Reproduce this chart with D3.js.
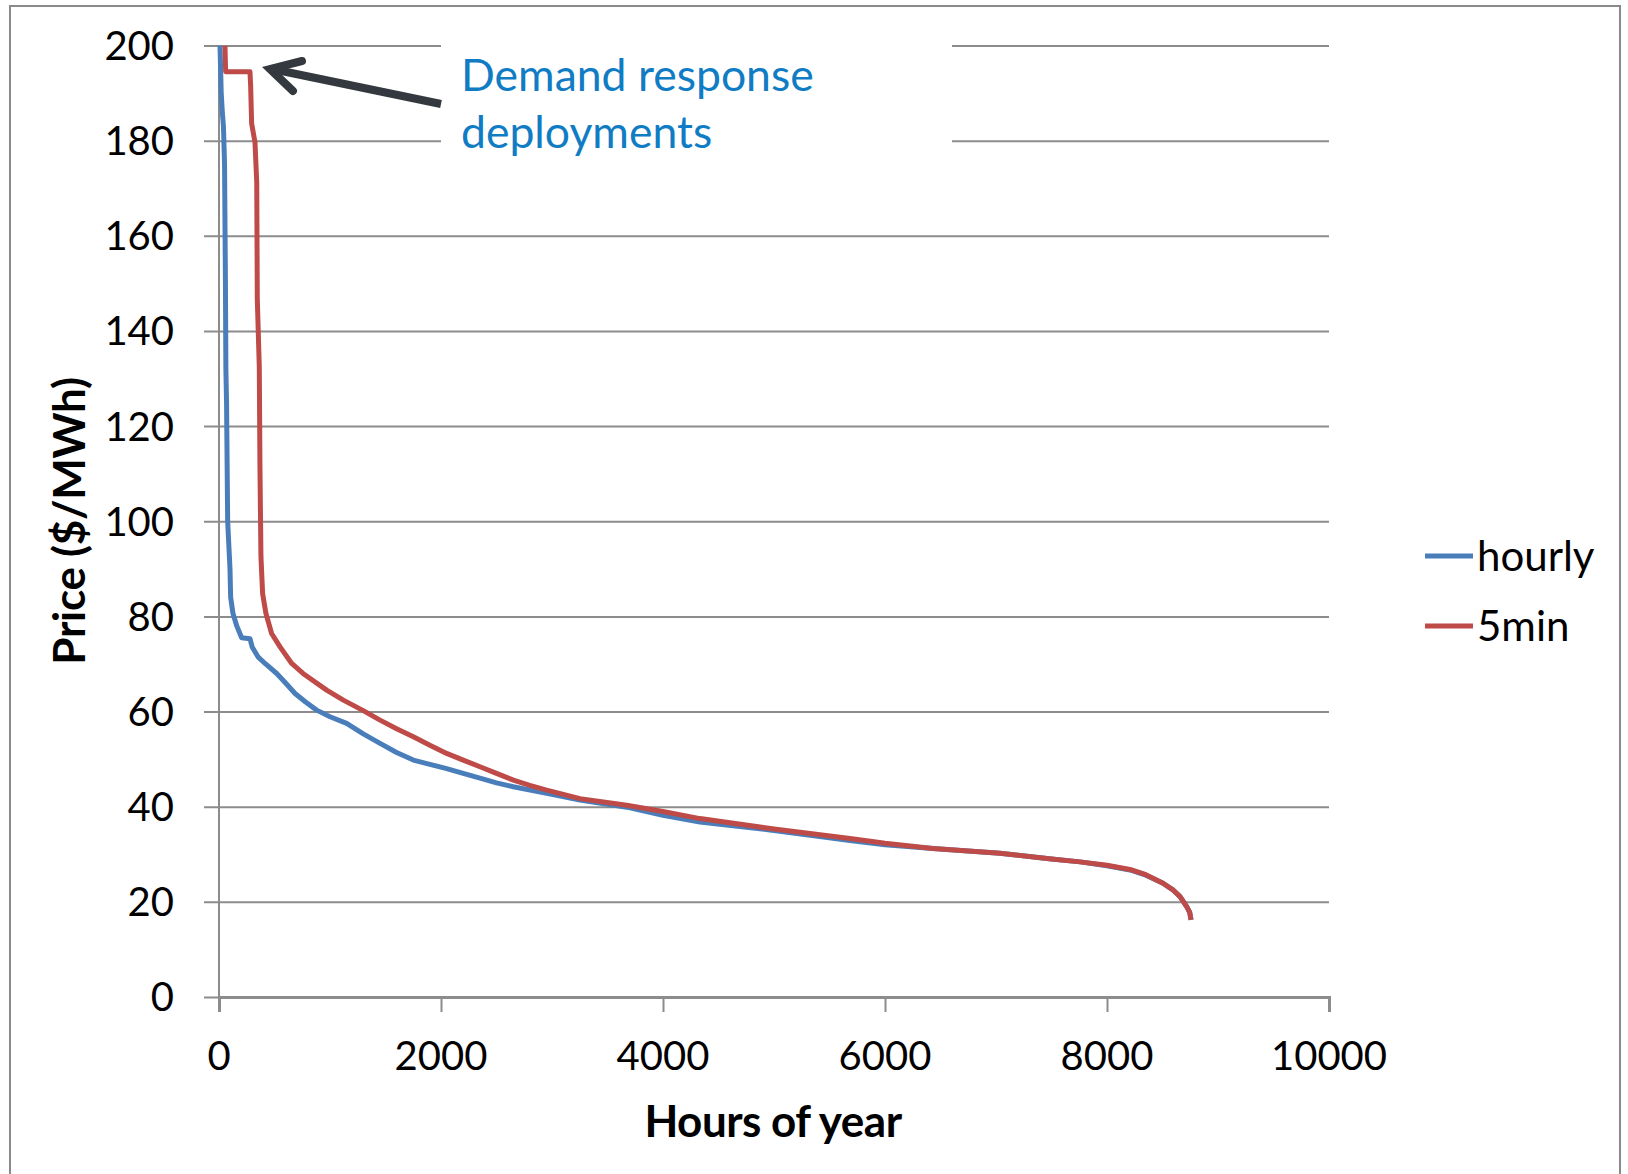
<!DOCTYPE html>
<html>
<head>
<meta charset="utf-8">
<script src="https://cdn.jsdelivr.net/npm/d3@7"></script>
<style>
  body { margin: 0; background: #fff; }
  text { font-family: Lato, "Open Sans", sans-serif; fill: #000; }
</style>
</head>
<body>
<script>
// price duration curves, [hour, $/MWh]
var hourly = [
  [9,200],[20,190],[30,186],[40,183],[50,175],[58,150],[62,132],[68,125],[78,100],[99,90],
  [105,84],[126,80.6],[160,78],[204,75.5],[279,75.3],[300,73.5],[351,71.5],[420,70],
  [520,68],[600,66],[685,63.8],[780,62],[880,60.3],[1000,58.9],[1150,57.5],[1300,55.3],
  [1451,53.3],[1600,51.4],[1751,49.8],[1900,48.9],[2051,48],[2200,47],[2351,46],
  [2500,45],[2652,44.2],[2952,42.8],[3252,41.4],[3673,39.9],[4000,38.2],[4333,36.8],
  [5000,35],[5685,32.9],[6000,32],[6432,31.2],[7036,30.2],[7500,29],[7757,28.4],
  [8000,27.6],[8207,26.7],[8350,25.6],[8505,23.9],[8600,22.4],[8658,21.1],[8718,19],
  [8745,17.8],[8757,16.2]
];
var fiveMin = [
  [54,200],[58,196],[60,194.5],[279,194.5],[285,191.6],[294,183.6],[324,179.7],[340,171.3],
  [345,146.8],[363,132.4],[369,111.4],[378,92.5],[393,84.8],[423,80.6],[474,76.4],
  [550,73.6],[655,70.1],[757,68],[970,64.5],[1120,62.4],[1300,60.2],[1451,58.2],
  [1600,56.4],[1751,54.7],[1900,52.9],[2051,51.2],[2200,49.8],[2351,48.4],[2500,47],
  [2652,45.6],[2800,44.5],[2952,43.5],[3252,41.7],[3673,40.3],[4000,39],[4333,37.5],
  [5000,35.3],[5685,33.3],[6000,32.3],[6432,31.2],[7036,30.2],[7500,29],[7757,28.4],
  [8000,27.7],[8207,26.8],[8350,25.7],[8505,23.9],[8600,22.4],[8658,21.1],[8718,19],
  [8745,17.8],[8757,16.2]
];
var series = [
  {name: "hourly", values: hourly, color: "#4a7ebb"},
  {name: "5min", values: fiveMin, color: "#be4b48"}
];
var xTicks = [0, 2000, 4000, 6000, 8000, 10000];
var yTicks = [0, 20, 40, 60, 80, 100, 120, 140, 160, 180, 200];
var note = ["Demand response", "deployments"];

var width = 1628, height = 1174;
var svg = d3.select('body').append('svg')
    .attr('width', width)
    .attr('height', height);

// outer frame
svg.append('rect')
    .attr('x', 10).attr('y', 6)
    .attr('width', 1610).attr('height', 1200)
    .attr('fill', 'none')
    .attr('stroke', '#8a8a8a')
    .attr('stroke-width', 2);

var x = d3.scaleLinear().domain([0, 10000]).range([219, 1329]);
var y = d3.scaleLinear().domain([0, 200]).range([997, 45.5]);

// gridlines + y ticks
svg.append('g')
    .attr('transform', 'translate(219,0)')
    .call(d3.axisLeft(y).tickValues(yTicks).tickSize(-(1329 - 219)).tickFormat(''))
    .call(g => g.select('.domain').remove())
    .call(g => g.selectAll('line').attr('stroke', '#8c8c8c').attr('stroke-width', 2).attr('x1', -15));

// blank out grid behind the note
svg.append('rect')
    .attr('x', 441).attr('y', 30).attr('width', 511).attr('height', 125)
    .attr('fill', '#fff');

// y axis line
svg.append('line')
    .attr('x1', 219).attr('x2', 219).attr('y1', y(200)).attr('y2', y(0))
    .attr('stroke', '#8c8c8c').attr('stroke-width', 2);

// x axis
svg.append('g')
    .attr('transform', 'translate(0,' + y(0) + ')')
    .call(d3.axisBottom(x).tickValues(xTicks).tickSize(15).tickFormat(''))
    .call(g => g.select('.domain').attr('stroke', '#8c8c8c').attr('stroke-width', 3))
    .call(g => g.selectAll('line').attr('stroke', '#8c8c8c').attr('stroke-width', 2));

svg.selectAll('.ylab')
    .data(yTicks)
    .enter().append('text')
    .attr('class', 'ylab')
    .attr('x', 174)
    .attr('y', d => y(d))
    .attr('dy', '0.36em')
    .attr('text-anchor', 'end')
    .style('font-size', '40px')
    .text(d => d);

svg.selectAll('.xlab')
    .data(xTicks)
    .enter().append('text')
    .attr('class', 'xlab')
    .attr('x', d => x(d))
    .attr('y', 1070)
    .attr('text-anchor', 'middle')
    .style('font-size', '40px')
    .text(d => d);

svg.append('text')
    .attr('x', 773).attr('y', 1137)
    .attr('text-anchor', 'middle')
    .style('font-size', '44px').style('font-weight', 'bold')
    .style('letter-spacing', '-0.5px')
    .text('Hours of year');

svg.append('text')
    .attr('transform', 'translate(85,521) rotate(-90)')
    .attr('text-anchor', 'middle')
    .style('font-size', '44px').style('font-weight', 'bold')
    .style('letter-spacing', '-0.3px')
    .text('Price ($/MWh)');

// curves
svg.append('clipPath').attr('id', 'plot')
    .append('rect').attr('x', 205).attr('y', y(200)).attr('width', 1130).attr('height', y(0) - y(200));

var line = d3.line()
    .x(d => x(d[0]))
    .y(d => y(d[1]));

svg.append('g').attr('clip-path', 'url(#plot)')
    .selectAll('path')
    .data(series)
    .enter().append('path')
    .attr('d', d => line(d.values))
    .attr('fill', 'none')
    .attr('stroke', d => d.color)
    .attr('stroke-width', 5)
    .attr('stroke-linejoin', 'round');

// legend
var leg = svg.selectAll('.leg')
    .data(series)
    .enter().append('g')
    .attr('class', 'leg')
    .attr('transform', (d, i) => 'translate(1425,' + (556 + i * 70) + ')');
leg.append('line')
    .attr('x1', 0).attr('x2', 48)
    .attr('stroke', d => d.color).attr('stroke-width', 5);
leg.append('text')
    .attr('x', 52).attr('dy', '0.36em')
    .style('font-size', '42px')
    .text(d => d.name);

// annotation
svg.selectAll('.note')
    .data(note)
    .enter().append('text')
    .attr('class', 'note')
    .attr('x', 461)
    .attr('y', (d, i) => 91 + i * 57)
    .style('font-size', '44.5px')
    .style('fill', '#0f7cc4')
    .text(d => d);

svg.append('line')
    .attr('x1', 441).attr('y1', 104).attr('x2', 272).attr('y2', 69)
    .attr('stroke', '#33393e').attr('stroke-width', 8);
svg.append('path')
    .attr('d', 'M302,61 L270,69 L293,91')
    .attr('fill', 'none')
    .attr('stroke', '#33393e').attr('stroke-width', 8)
    .attr('stroke-linecap', 'round').attr('stroke-linejoin', 'miter');
</script>
</body>
</html>
